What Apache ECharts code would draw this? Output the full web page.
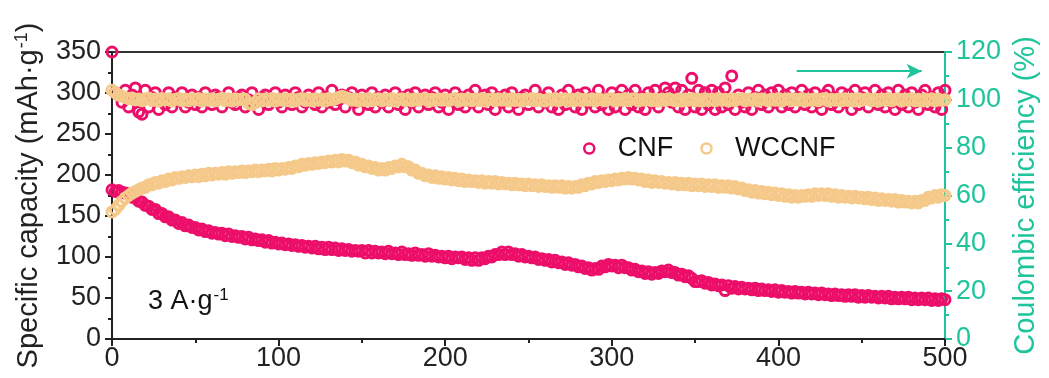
<!DOCTYPE html>
<html>
<head>
<meta charset="utf-8">
<script src="https://cdn.jsdelivr.net/npm/echarts@6/dist/echarts.min.js"></script>
<style>
html,body{margin:0;padding:0;background:#fff;}
#chart{width:1049px;height:378px;}
</style>
</head>
<body>
<div id="chart"></div>
<script>
// cycle step of the sampled points (cycles 0,2,4,...,500)
const cycleStep = 2;

const cnfCapacity = [
182,180,181,179,178,177,173,172,168,167,
163,162,158,158,153,153,149,149,145,145,
141,142,138,139,136,136,133,134,131,132,
129,130,128,129,126,128,125,126,124,125,
122,124,121,122,120,121,118,120,117,118,
116,117,115,116,114,115,113,114,112,113,
111,113,110,112,109,112,109,111,108,110,
108,109,107,108,107,108,105,108,105,107,
105,106,104,107,104,105,103,106,103,104,
102,105,102,103,101,104,101,102,100,101,
99,101,98,100,99,100,97,99,96,99,
96,99,98,101,100,103,103,106,103,106,
103,104,101,103,100,101,99,100,97,98,
96,97,94,96,93,94,91,93,90,91,
88,89,86,87,84,86,85,89,88,91,
89,90,87,90,87,87,84,85,82,83,
80,82,79,81,80,83,82,84,81,81,
78,79,76,77,74,70,70,71,68,69,
66,67,65,66,59,65,62,64,61,63,
61,62,60,62,59,61,59,60,58,60,
57,59,57,58,56,58,56,57,55,57,
55,56,54,56,54,55,53,55,53,54,
52,54,52,54,51,53,51,53,51,52,
50,52,50,52,49,51,49,51,49,51,
48,50,48,50,48,50,47,49,47,49,
48];

const wccnfCapacity = [
155,158,163,168,172,175,178,180,182,184,
185,188,188,191,190,193,192,195,194,197,
196,198,197,199,198,200,198,201,199,202,
200,202,201,203,201,204,202,204,203,205,
203,205,204,206,204,206,205,207,205,208,
206,208,207,209,208,211,210,213,212,214,
213,215,214,216,215,217,216,218,216,219,
217,218,215,216,212,213,210,211,208,209,
206,208,206,209,208,211,210,213,210,210,
206,206,202,202,199,200,197,199,196,198,
195,197,194,196,193,195,192,194,192,193,
191,193,190,192,190,192,189,191,189,190,
188,190,188,189,187,189,187,188,186,188,
186,187,185,187,185,187,184,186,184,186,
185,188,187,190,189,192,191,193,192,194,
193,195,194,196,195,197,195,196,194,195,
192,194,191,193,191,192,190,191,189,191,
188,190,188,190,187,189,187,189,186,188,
186,188,185,187,185,187,184,186,183,184,
181,182,179,181,178,180,177,179,176,178,
175,177,174,176,173,175,173,175,174,176,
174,177,175,177,175,177,174,176,173,175,
173,174,172,174,172,173,171,173,170,172,
169,171,169,170,168,170,167,169,167,168,
166,168,166,169,169,173,172,175,173,176,
175];

const cnfCE = [
120,103,102,99,104,97,102,105,95,94,
104,97,101,103,96,100,98,103,97,101,
100,103,97,99,102,98,101,97,103,100,
98,102,101,97,100,103,99,98,101,102,
97,100,103,99,96,101,102,98,100,103,
99,97,102,100,98,103,101,97,99,102,
100,98,103,97,101,99,104,98,100,102,
97,101,103,99,96,102,100,98,103,97,
101,99,102,97,100,103,98,101,96,102,
99,103,97,100,102,98,101,103,97,99,
102,96,100,103,98,101,97,102,99,104,
97,100,102,98,103,96,101,99,102,97,
103,99,96,101,102,98,100,104,97,101,
99,103,97,100,96,102,98,104,100,97,
102,96,103,99,101,97,104,98,100,96,
103,97,101,104,96,102,98,104,97,101,
96,103,99,104,97,101,105,103,99,105,
97,104,96,102,109,97,104,96,103,98,
104,96,103,97,105,98,110,96,102,99,
97,103,96,101,104,98,102,97,103,99,
104,97,102,98,103,97,101,104,98,102,
97,103,99,96,102,104,98,101,97,103,
99,102,96,104,98,101,103,97,100,104,
98,102,97,103,99,96,104,98,102,97,
103,99,96,102,104,98,101,97,103,96,
104];

const wccnfCE = [
104,103,102,101.5,101,100.5,100.8,100,100.4,99.6,
100.4,100.8,99.7,100.3,99.5,100.6,100,100.5,99.5,100.2,
100.6,99.7,100.4,99.6,100.5,100,100.6,99.5,100.3,99.8,
100.5,99.6,100.2,100.7,99.7,100.3,99.5,100.5,100,100.4,
100.2,98.5,98,99,100.5,99.6,100.4,99.8,100.6,99.5,
100.3,99.8,100.6,99.6,100.4,99.5,100.2,100.6,99.7,100.3,
99.6,100.5,99.8,100.4,99.5,100.6,100,100.4,101,101.5,
101,100.6,99.8,100.4,99.5,100.3,99.7,100.6,99.6,100.2,
100.5,99.6,100.3,99.8,100.6,99.5,100.2,100.5,99.7,100.4,
99.6,100.5,99.8,100.3,100.6,99.5,100.2,99.7,100.5,99.8,
100.4,99.6,100.2,100.6,99.5,100.3,99.8,100.5,99.6,100.4,
99.7,100.6,99.5,100.2,100.4,99.6,100.5,99.8,100.3,99.5,
100.6,99.7,100.2,99.5,100.4,100,100.6,99.6,100.3,99.8,
99.5,100.4,99.8,100.6,99.6,100.2,100.5,99.5,100.3,99.7,
100.6,99.6,100.2,99.8,100.5,99.5,100.4,100,99.6,100.3,
100.5,99.5,100.2,99.8,100.6,99.6,100.3,100.5,99.5,100.2,
99.8,100.6,99.6,100.4,99.5,100.3,99.7,100.5,100,99.6,
100.4,99.5,100.3,99.8,100.6,99.6,100.2,99.5,100.5,99.7,
100.3,99.6,100.6,99.8,100.2,99.5,100.5,99.7,100.3,100.6,
99.6,100.2,99.8,100.5,99.5,100.4,100,99.6,100.3,99.8,
100.6,99.5,100.2,100.5,99.6,100.3,99.8,100.6,99.5,100.2,
99.8,100.5,99.6,100.3,100.6,99.5,100.2,99.8,100.4,99.6,
100.5,99.7,100.3,99.5,100.6,99.8,100.2,100.5,99.6,100.3,
99.5,100.4,99.8,100.6,99.6,100.2,100.5,99.5,100.3,99.8,
100.6,99.6,100.2,99.5,100.4,99.8,100.5,99.6,100.3,99.8,
100];

const xTicks = {min: 0, max: 500, interval: 100};
const yLeftTicks = {min: 0, max: 350, interval: 50};
const yRightTicks = {min: 0, max: 120, interval: 20};
const legendNames = ['CNF', 'WCCNF'];
// efficiency-direction arrow (in data units: cycle, %)
const arrowFrom = [411, 112];
const arrowTo = [486, 112];

const PINK = '#EC0F6A';
const TAN = '#F5C98A';
const TEAL = '#1FC49A';
const FONT = 'Liberation Sans, Arial, Helvetica, sans-serif';

function pairs(arr) { return arr.map((v, i) => [i * cycleStep, v]); }

function scatter(name, data, color, yAxisIndex, z) {
  return {
    name: name, type: 'scatter', yAxisIndex: yAxisIndex, data: pairs(data),
    symbol: 'circle', symbolSize: 10, z: z,
    itemStyle: {color: 'rgba(255,255,255,0)', borderColor: color, borderWidth: 3, opacity: 1},
    emphasis: {disabled: true}, animation: false
  };
}

const chart = echarts.init(document.getElementById('chart'), null, {renderer: 'canvas'});
const series = [
  scatter('CNF', cnfCapacity, PINK, 0, 2),
  scatter('CNF', cnfCE, PINK, 1, 3),
  scatter('WCCNF', wccnfCapacity, TAN, 0, 4),
  scatter('WCCNF', wccnfCE, TAN, 1, 5)
];
series[3].markLine = {
  silent: true, animation: false,
  symbol: ['none', 'arrow'], symbolSize: [11, 15],
  label: {show: false},
  lineStyle: {color: TEAL, width: 2, type: 'solid'},
  data: [[{coord: arrowFrom}, {coord: arrowTo}]]
};

chart.setOption({
  animation: false,
  textStyle: {fontFamily: FONT},
  grid: {left: 112, right: 104, top: 52, bottom: 39, show: true, borderColor: '#333', borderWidth: 2},
  legend: {
    data: legendNames, left: 578, top: 130, itemWidth: 47, itemHeight: 10, itemGap: 27,
    textStyle: {fontSize: 27, color: '#111', fontFamily: FONT}, selectedMode: false,
    itemStyle: {borderWidth: 2.5}
  },
  title: {
    text: '{a|3 A·g}{s|-1}', left: 143, top: 282,
    textStyle: {fontWeight: 'normal', rich: {
      a: {fontSize: 27, color: '#111', fontFamily: FONT, fontWeight: 'normal'},
      s: {fontSize: 17, color: '#111', fontFamily: FONT, fontWeight: 'normal', verticalAlign: 'top', padding: [0, 0, 12, 1]}
    }}
  },
  xAxis: {
    type: 'value', min: xTicks.min, max: xTicks.max, interval: xTicks.interval,
    splitLine: {show: false},
    axisLine: {lineStyle: {color: '#222', width: 2}},
    axisTick: {show: true, length: 7, lineStyle: {color: '#222', width: 2}},
    minorTick: {show: true, splitNumber: 2, length: 4, lineStyle: {color: '#222', width: 2}},
    axisLabel: {fontSize: 27, color: '#222', margin: 6, fontFamily: FONT}
  },
  yAxis: [{
    type: 'value', min: yLeftTicks.min, max: yLeftTicks.max, interval: yLeftTicks.interval,
    position: 'left',
    name: '{a|Specific capacity (mAh·g}{s|-1}{a|)}', nameLocation: 'middle', nameRotate: 90, nameGap: 68,
    nameTextStyle: {rich: {
      a: {fontSize: 29, color: '#222', fontFamily: FONT},
      s: {fontSize: 18, color: '#222', fontFamily: FONT, verticalAlign: 'top', padding: [0, 0, 13, 1]}
    }},
    splitLine: {show: false},
    axisLine: {show: true, lineStyle: {color: '#222', width: 2}},
    axisTick: {show: true, length: 7, lineStyle: {color: '#222', width: 2}},
    minorTick: {show: true, splitNumber: 2, length: 4, lineStyle: {color: '#222', width: 2}},
    axisLabel: {fontSize: 27, color: '#222', margin: 11, fontFamily: FONT}
  }, {
    type: 'value', min: yRightTicks.min, max: yRightTicks.max, interval: yRightTicks.interval,
    position: 'right',
    name: 'Coulombic efficiency (%)', nameLocation: 'middle', nameRotate: 90, nameGap: 64,
    nameTextStyle: {fontSize: 29, color: TEAL, fontFamily: FONT},
    splitLine: {show: false},
    axisLine: {show: true, lineStyle: {color: TEAL, width: 2}},
    axisTick: {show: true, length: 7, lineStyle: {color: TEAL, width: 2}},
    minorTick: {show: true, splitNumber: 2, length: 4, lineStyle: {color: TEAL, width: 2}},
    axisLabel: {fontSize: 27, color: TEAL, margin: 11, fontFamily: FONT}
  }],
  series: series
});
</script>
</body>
</html>
